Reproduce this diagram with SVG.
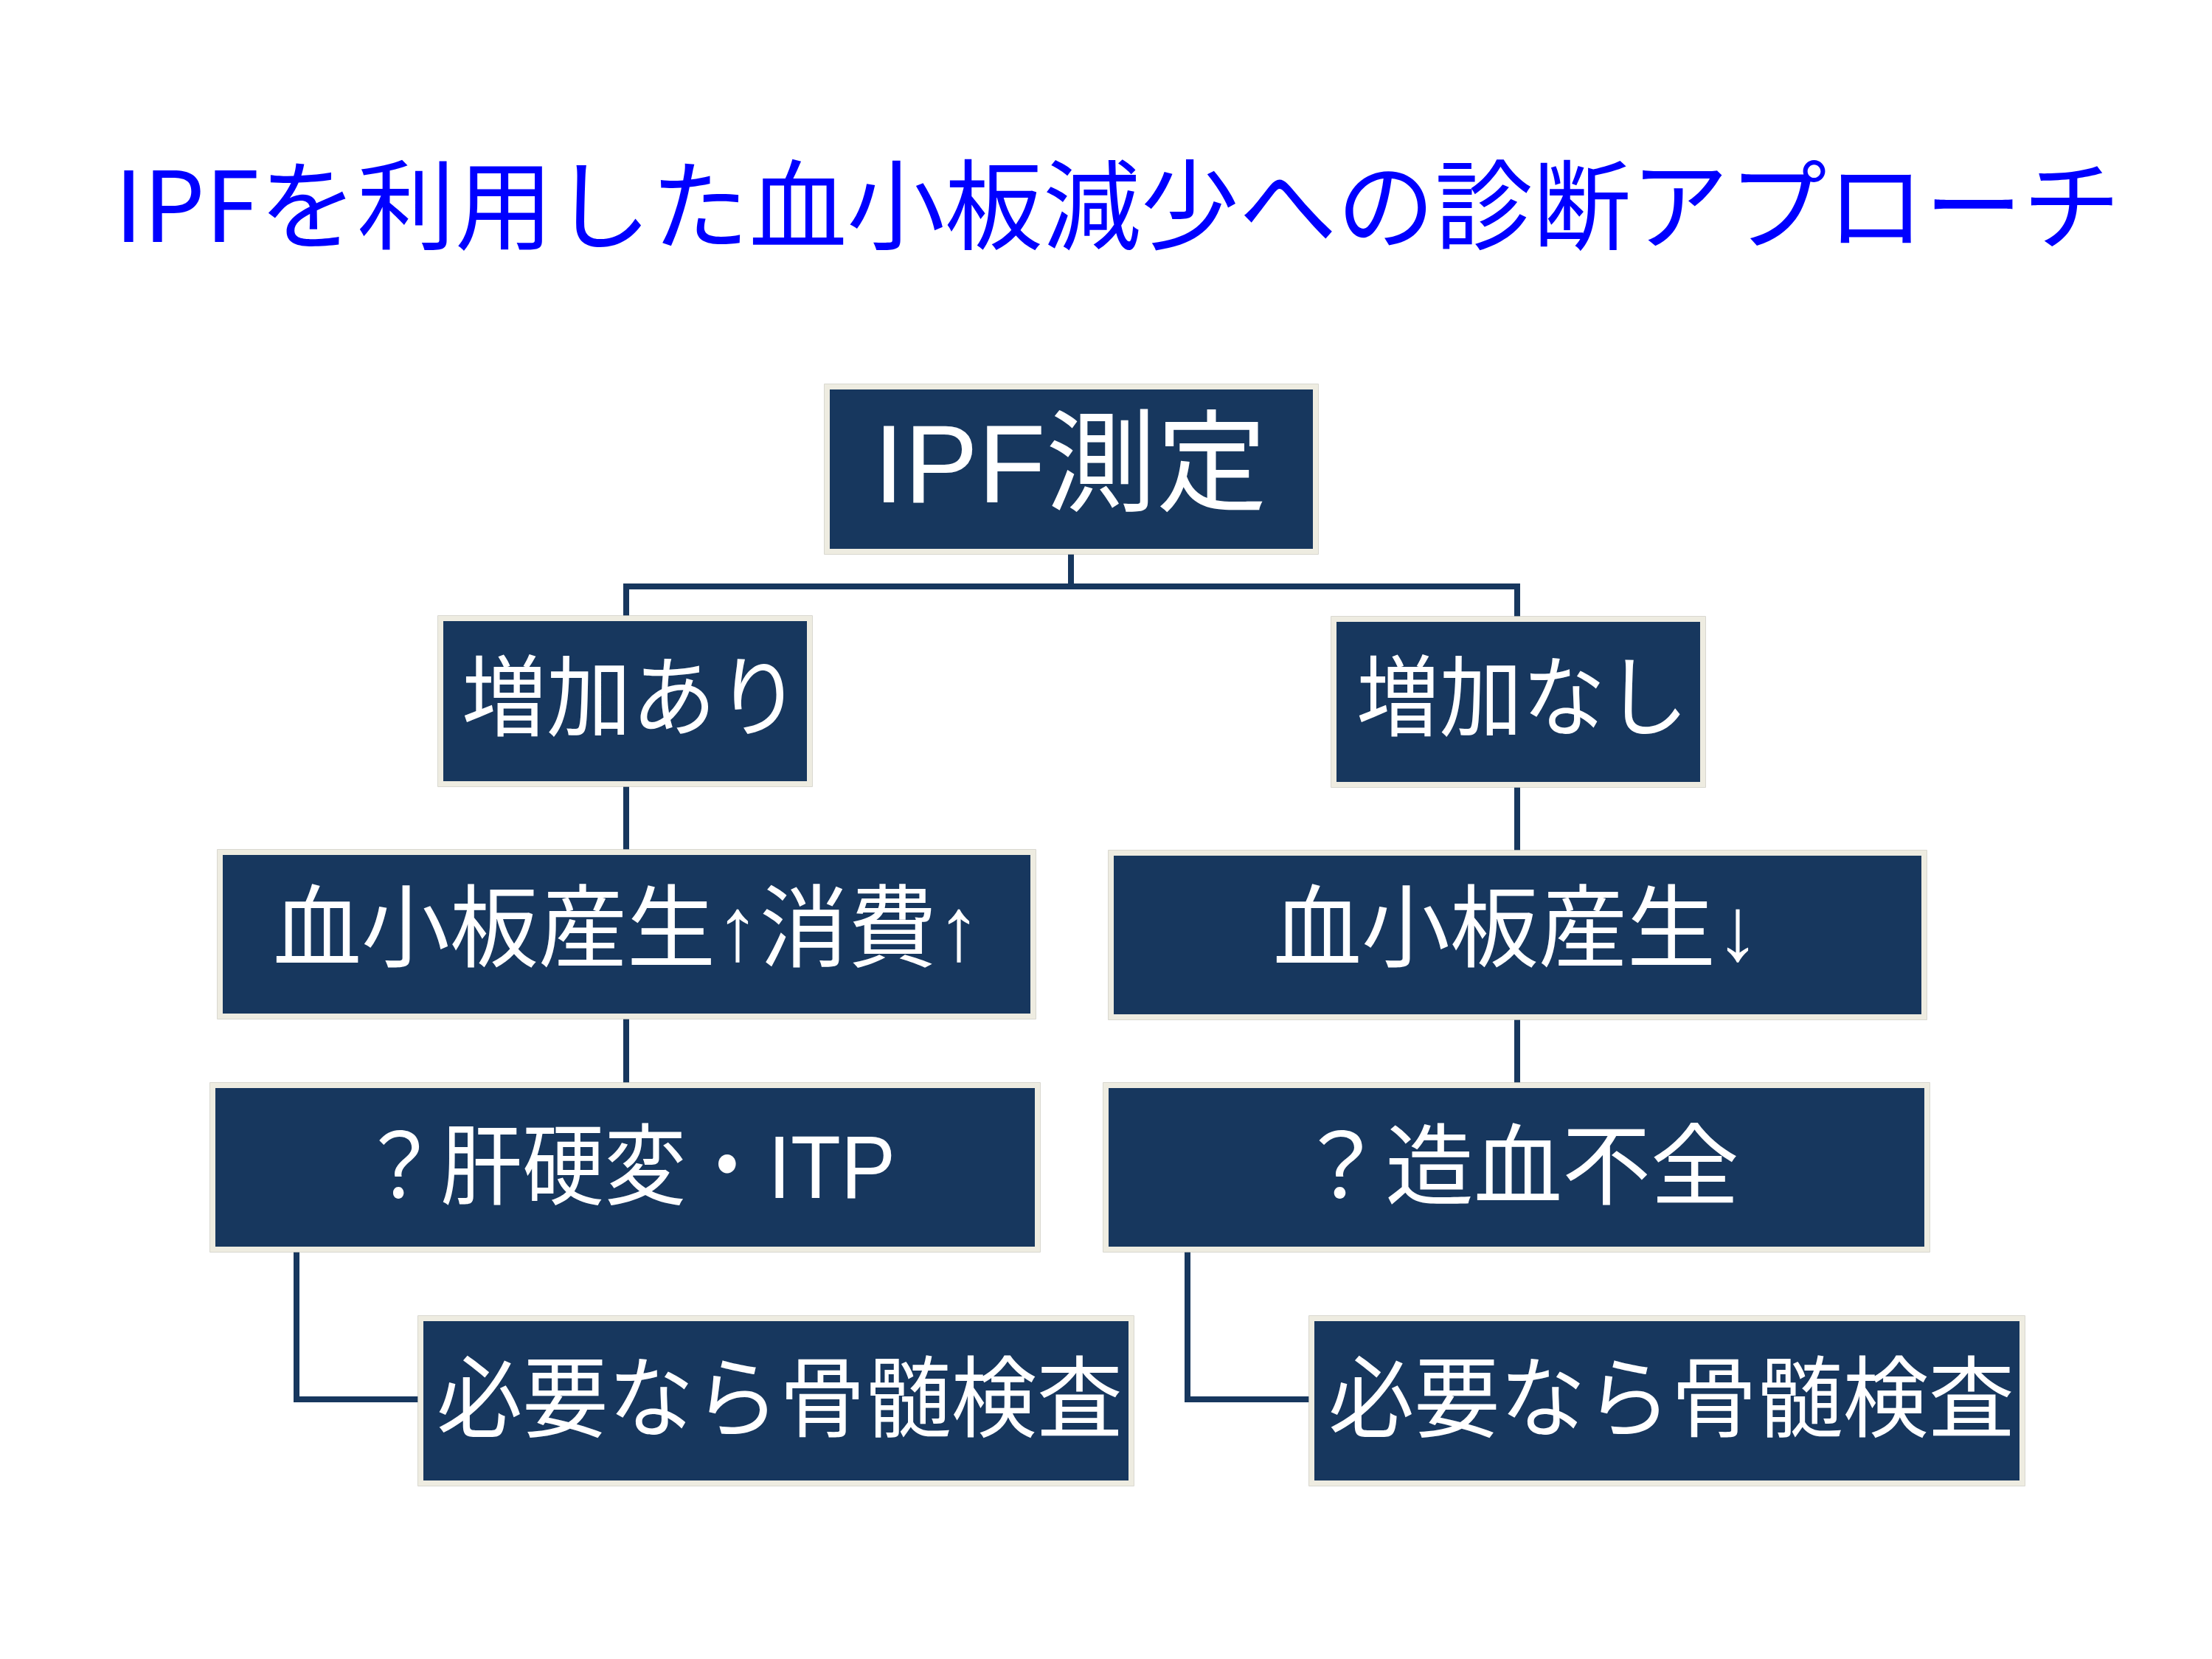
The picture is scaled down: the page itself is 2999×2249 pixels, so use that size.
<svg xmlns="http://www.w3.org/2000/svg" width="2999" height="2249" viewBox="0 0 2999 2249">
<style>
.box{fill:#17375e;stroke:#eeece1;stroke-width:7}
.edge{fill:none;stroke:#cdcbc1;stroke-width:1.5}
.lbl{fill:#ffffff;font-family:"Liberation Sans","Noto Sans CJK JP",sans-serif}
.conn{fill:none;stroke:#17375e;stroke-width:8}
.title{fill:#0000ff;font-family:"Noto Sans CJK JP",sans-serif;font-size:133px}
</style>
<rect width="2999" height="2249" fill="#ffffff"/>
<text class="title" x="155" y="328" textLength="2720" lengthAdjust="spacingAndGlyphs">IPFを利用した血小板減少への診断アプローチ</text>

<g id="connectors">
<path class="conn" d="M1452,751 V795"/>
<path class="conn" d="M849,838 V795 H2057 V838"/>
<path class="conn" d="M849,1063 V1156"/>
<path class="conn" d="M2057,1063 V1156"/>
<path class="conn" d="M849,1378 V1471"/>
<path class="conn" d="M2057,1378 V1471"/>
<path class="conn" d="M402,1694 V1897 H570"/>
<path class="conn" d="M1610,1694 V1897 H1778"/>
</g>

<g id="node-ipf">
<rect class="edge" x="1118" y="521" width="669" height="230"/>
<rect class="box" x="1121.5" y="524.5" width="662" height="223"/>
<text class="lbl" x="1451" y="681" font-size="150" text-anchor="middle">IPF測定</text>
</g>

<g id="node-increase">
<rect class="edge" x="594" y="835" width="507" height="231"/>
<rect class="box" x="597.5" y="838.5" width="500" height="224"/>
<text class="lbl" x="626" y="989" font-size="120" textLength="460" lengthAdjust="spacingAndGlyphs">増加あり</text>
</g>

<g id="node-noincrease">
<rect class="edge" x="1805" y="836" width="507" height="231"/>
<rect class="box" x="1808.5" y="839.5" width="500" height="224"/>
<text class="lbl" x="1839" y="989" font-size="120" textLength="450" lengthAdjust="spacingAndGlyphs">増加なし</text>
</g>

<g id="node-prod-up">
<rect class="edge" x="295" y="1152" width="1109" height="229"/>
<rect class="box" x="298.5" y="1155.5" width="1102" height="222"/>
<text class="lbl" x="370" y="1301" font-size="122" textLength="960" lengthAdjust="spacingAndGlyphs">血小板産生↑消費↑</text>
</g>

<g id="node-prod-down">
<rect class="edge" x="1503" y="1153" width="1109" height="229"/>
<rect class="box" x="1506.5" y="1156.5" width="1102" height="222"/>
<text class="lbl" x="1726" y="1301" font-size="122" textLength="660" lengthAdjust="spacingAndGlyphs">血小板産生↓</text>
</g>

<g id="node-cirrhosis">
<rect class="edge" x="285" y="1468" width="1125" height="229"/>
<rect class="box" x="288.5" y="1471.5" width="1118" height="222"/>
<text class="lbl" x="486" y="1624" font-size="120" textLength="728" lengthAdjust="spacingAndGlyphs">？肝硬変・ITP</text>
</g>

<g id="node-hypoplasia">
<rect class="edge" x="1496" y="1468" width="1120" height="229"/>
<rect class="box" x="1499.5" y="1471.5" width="1113" height="222"/>
<text class="lbl" x="1758" y="1624" font-size="120">？造血不全</text>
</g>

<g id="node-marrow-left">
<rect class="edge" x="567" y="1784" width="970" height="230"/>
<rect class="box" x="570.5" y="1787.5" width="963" height="223"/>
<text class="lbl" x="592" y="1939" font-size="120" textLength="930" lengthAdjust="spacingAndGlyphs">必要なら骨髄検査</text>
</g>

<g id="node-marrow-right">
<rect class="edge" x="1775" y="1784" width="970" height="230"/>
<rect class="box" x="1778.5" y="1787.5" width="963" height="223"/>
<text class="lbl" x="1801" y="1939" font-size="120" textLength="930" lengthAdjust="spacingAndGlyphs">必要なら骨髄検査</text>
</g>
</svg>
